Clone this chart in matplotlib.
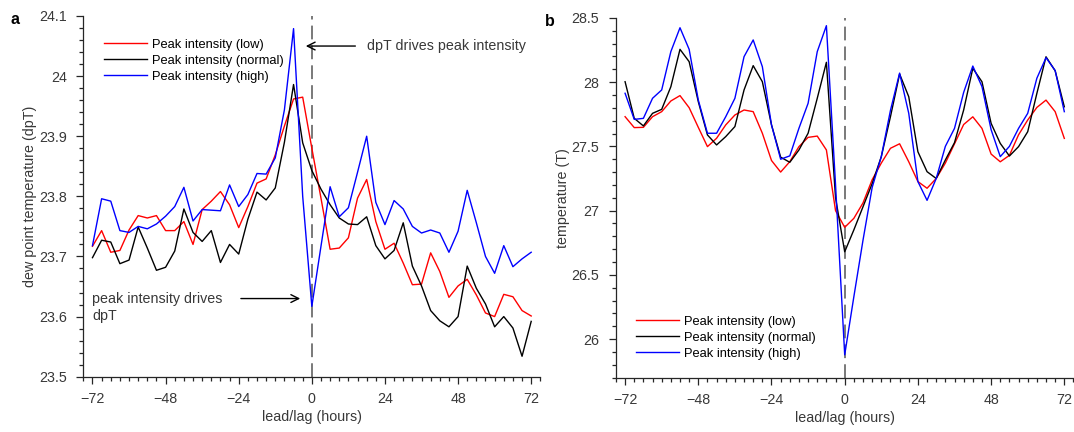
import numpy as np
import matplotlib
matplotlib.use("Agg")
import matplotlib.pyplot as plt
from matplotlib.ticker import MultipleLocator, FuncFormatter

plt.rcParams["font.family"] = ["Liberation Sans", "DejaVu Sans"]

hours = list(range(-72, 73, 3))
series_labels = ["Peak intensity (low)", "Peak intensity (normal)", "Peak intensity (high)"]
series_colors = ["#ff0000", "#000000", "#0000ff"]

# panel a: dew point temperature
dpt_low = [23.717, 23.743, 23.707, 23.710, 23.744, 23.768, 23.764, 23.768, 23.743, 23.743,
           23.758, 23.720, 23.778, 23.792, 23.808, 23.786, 23.748, 23.783, 23.822, 23.829,
           23.869, 23.917, 23.962, 23.965, 23.880, 23.797, 23.712, 23.714, 23.731, 23.797,
           23.828, 23.758, 23.712, 23.722, 23.689, 23.653, 23.654, 23.706, 23.675, 23.632,
           23.651, 23.662, 23.636, 23.606, 23.600, 23.637, 23.633, 23.610, 23.601]
dpt_normal = [23.698, 23.727, 23.724, 23.688, 23.694, 23.749, 23.714, 23.677, 23.682, 23.709,
              23.779, 23.740, 23.725, 23.743, 23.690, 23.720, 23.704, 23.762, 23.807, 23.794,
              23.814, 23.890, 23.986, 23.889, 23.843, 23.812, 23.786, 23.764, 23.754, 23.753,
              23.766, 23.718, 23.696, 23.710, 23.756, 23.684, 23.651, 23.610, 23.593, 23.583,
              23.600, 23.684, 23.647, 23.621, 23.583, 23.600, 23.581, 23.534, 23.592]
dpt_high = [23.718, 23.796, 23.792, 23.743, 23.740, 23.750, 23.746, 23.754, 23.767, 23.783,
            23.815, 23.759, 23.778, 23.777, 23.776, 23.819, 23.783, 23.803, 23.838, 23.837,
            23.864, 23.944, 24.079, 23.800, 23.617, 23.717, 23.816, 23.766, 23.781, 23.840,
            23.900, 23.790, 23.753, 23.793, 23.779, 23.750, 23.739, 23.744, 23.739, 23.707,
            23.742, 23.810, 23.756, 23.700, 23.672, 23.718, 23.683, 23.696, 23.707]

# panel b: temperature
t_low = [27.731, 27.646, 27.648, 27.731, 27.770, 27.853, 27.895, 27.801, 27.648, 27.498,
         27.563, 27.667, 27.744, 27.783, 27.770, 27.602, 27.390, 27.300, 27.381, 27.498,
         27.570, 27.580, 27.472, 27.000, 26.870, 26.940, 27.060, 27.240, 27.370, 27.485,
         27.520, 27.380, 27.226, 27.174, 27.250, 27.370, 27.520, 27.670, 27.730, 27.640,
         27.440, 27.380, 27.430, 27.590, 27.705, 27.803, 27.860, 27.770, 27.562]
t_normal = [28.003, 27.718, 27.659, 27.757, 27.788, 27.964, 28.255, 28.159, 27.848, 27.589,
            27.511, 27.576, 27.654, 27.939, 28.128, 28.003, 27.667, 27.416, 27.376, 27.472,
            27.602, 27.874, 28.154, 27.100, 26.680, 26.850, 27.030, 27.210, 27.420, 27.731,
            28.063, 27.886, 27.458, 27.303, 27.250, 27.394, 27.529, 27.783, 28.107, 28.003,
            27.679, 27.523, 27.425, 27.498, 27.614, 27.912, 28.197, 28.088, 27.808]
t_high = [27.913, 27.710, 27.718, 27.874, 27.939, 28.237, 28.423, 28.255, 27.861, 27.602,
          27.602, 27.731, 27.874, 28.198, 28.328, 28.120, 27.667, 27.400, 27.426, 27.641,
          27.835, 28.237, 28.439, 27.200, 25.878, 26.330, 26.770, 27.180, 27.420, 27.780,
          28.070, 27.757, 27.226, 27.080, 27.250, 27.500, 27.640, 27.920, 28.125, 27.965,
          27.630, 27.420, 27.500, 27.640, 27.757, 28.030, 28.190, 28.090, 27.770]

AX_COLOR = "#262626"
TXT_COLOR = "#383838"


def fmt(v, pos):
    return f"{v:g}".replace("-", "\u2212")


def style_axes(ax, ylim, ymajor, yminor):
    ax.set_xlim(-75, 75)
    ax.set_ylim(*ylim)
    ax.xaxis.set_major_locator(MultipleLocator(24))
    ax.xaxis.set_minor_locator(MultipleLocator(3))
    ax.yaxis.set_major_locator(MultipleLocator(ymajor))
    ax.yaxis.set_minor_locator(MultipleLocator(yminor))
    ax.xaxis.set_major_formatter(FuncFormatter(fmt))
    ax.yaxis.set_major_formatter(FuncFormatter(fmt))
    for s in ["top", "right"]:
        ax.spines[s].set_visible(False)
    for s in ["left", "bottom"]:
        ax.spines[s].set_color(AX_COLOR)
        ax.spines[s].set_linewidth(0.9)
    ax.tick_params(which="both", direction="out", color=AX_COLOR, width=0.9,
                   labelsize=10.3, labelcolor=TXT_COLOR)
    ax.tick_params(axis="x", pad=6)
    ax.tick_params(axis="y", pad=7)
    ax.tick_params(which="major", length=5)
    ax.tick_params(which="minor", length=3)
    ax.set_xlabel("lead/lag (hours)", fontsize=10.3, color=TXT_COLOR, labelpad=3)
    ax.axvline(0, color="#555555", lw=1.1, ls=(0, (9, 4)), zorder=1)


fig = plt.figure(figsize=(10.74, 4.32), dpi=100)

# panel a
ax1 = fig.add_axes([0.0776, 0.128, 0.4255, 0.835])
for vals, lab, col in zip([dpt_low, dpt_normal, dpt_high], series_labels, series_colors):
    ax1.plot(hours, vals, color=col, lw=1.0, label=lab, zorder=3)
style_axes(ax1, (23.5, 24.1), 0.1, 0.02)
ax1.set_ylabel("dew point temperature (dpT)", fontsize=10.3, color=TXT_COLOR)
ax1.yaxis.set_label_coords(-0.101, 0.5)
ax1.legend(loc="upper left", bbox_to_anchor=(0.026, 0.962), frameon=False, fontsize=9.3,
           handlelength=3.3, handletextpad=0.4, labelspacing=0.3, borderpad=0.2)
ax1.annotate("", xy=(-2.9, 24.05), xytext=(15.2, 24.05),
             arrowprops=dict(arrowstyle="->", color="black", lw=1.0, mutation_scale=14))
ax1.text(18, 24.05, "dpT drives peak intensity", fontsize=10.3, color=TXT_COLOR, va="center")
ax1.annotate("", xy=(-2.9, 23.63), xytext=(-24.2, 23.63),
             arrowprops=dict(arrowstyle="->", color="black", lw=1.0, mutation_scale=14))
ax1.text(-72, 23.615, "peak intensity drives\ndpT", fontsize=10.3, color=TXT_COLOR,
         va="center", ha="left", linespacing=1.2)
fig.text(0.0095, 0.945, "a", fontsize=11.5, fontweight="bold")

# panel b
ax2 = fig.add_axes([0.5735, 0.1257, 0.426, 0.833])
for vals, lab, col in zip([t_low, t_normal, t_high], series_labels, series_colors):
    ax2.plot(hours, vals, color=col, lw=1.0, label=lab, zorder=3)
style_axes(ax2, (25.7, 28.5), 0.5, 0.1)
ax2.set_ylabel("temperature (T)", fontsize=10.3, color=TXT_COLOR)
ax2.yaxis.set_label_coords(-0.10, 0.5)
ax2.legend(loc="lower left", bbox_to_anchor=(0.024, 0.025), frameon=False, fontsize=9.3,
           handlelength=3.3, handletextpad=0.4, labelspacing=0.3, borderpad=0.2)
fig.text(0.5075, 0.94, "b", fontsize=11.5, fontweight="bold")

fig.savefig("out.png", dpi=100)
